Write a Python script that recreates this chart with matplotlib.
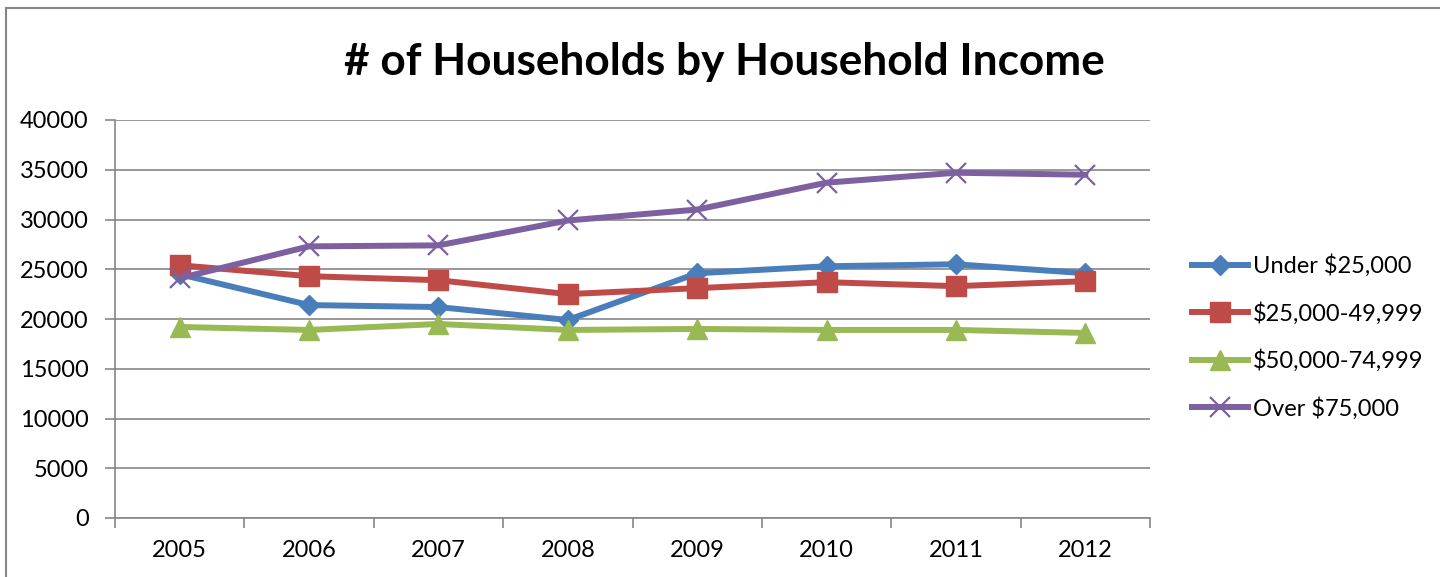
import matplotlib
matplotlib.use('Agg')
import matplotlib.pyplot as plt
from matplotlib.patches import Rectangle
import numpy as np

plt.rcParams['font.family'] = ['Lato', 'DejaVu Sans']

years = ['2005', '2006', '2007', '2008', '2009', '2010', '2011', '2012']
under_25k = [24500, 21400, 21200, 19900, 24600, 25300, 25500, 24600]
r25k_50k = [25400, 24300, 23900, 22500, 23100, 23700, 23300, 23800]
r50k_75k = [19200, 18900, 19500, 18900, 19000, 18900, 18900, 18600]
over_75k = [24100, 27300, 27400, 29900, 31000, 33700, 34700, 34500]

series = [
    ('Under $25,000', under_25k, '#4A7EBB', 'D', 10),
    ('$25,000-49,999', r25k_50k, '#BE4B48', 's', 14),
    ('$50,000-74,999', r50k_75k, '#98B954', '^', 14),
    ('Over $75,000', over_75k, '#7D60A0', 'x', 14),
]

fig = plt.figure(figsize=(14.4, 5.77), dpi=100)
ax = fig.add_axes([115/1440, 1 - 518/577, (1150 - 115)/1440, (518 - 120)/577])

x = np.arange(len(years))
for name, vals, col, mk, ms in series:
    if mk == 'x':
        ax.plot(x, vals, color=col, lw=4.3, marker=mk, ms=ms, mew=1.6,
                label=name, zorder=3)
    else:
        ax.plot(x, vals, color=col, lw=4.3, marker=mk, ms=ms, mec=col,
                label=name, zorder=3)

ax.set_xlim(-0.5, len(years) - 0.5)
ax.set_ylim(0, 40000)
ax.set_yticks(np.arange(0, 40001, 5000))
ax.set_xticks(np.arange(-0.5, len(years), 1))
ax.set_xticklabels([])
ax.set_xticks(x, minor=True)
ax.set_xticklabels(years, minor=True)
ax.tick_params(axis='x', which='minor', length=0, labelsize=17, pad=16)
ax.tick_params(axis='x', which='major', length=7, width=1.2, color='#868686')
ax.tick_params(axis='y', length=7, width=1.2, color='#868686', labelsize=17, pad=12)

ax.grid(axis='y', color='#868686', lw=1.2, zorder=0)
for s in ['top', 'right']:
    ax.spines[s].set_visible(False)
for s in ['left', 'bottom']:
    ax.spines[s].set_color('#868686')
    ax.spines[s].set_linewidth(1.2)

fig.text(0.503, 1 - 62/577, '# of Households by Household Income',
         ha='center', va='center', fontsize=31.8, fontweight='bold')

ax.legend(loc='center left', bbox_to_anchor=(1.041, 0.455), frameon=False,
          fontsize=17, handlelength=2.35, labelspacing=1.05, handletextpad=0.2,
          borderaxespad=0, borderpad=0)

fig.patches.append(Rectangle((6/1440, -0.1), 1.2, 1 - 8/577 + 0.1,
                             transform=fig.transFigure, fill=False,
                             edgecolor='#868686', lw=1.5))

fig.savefig('out.png', dpi=100)
